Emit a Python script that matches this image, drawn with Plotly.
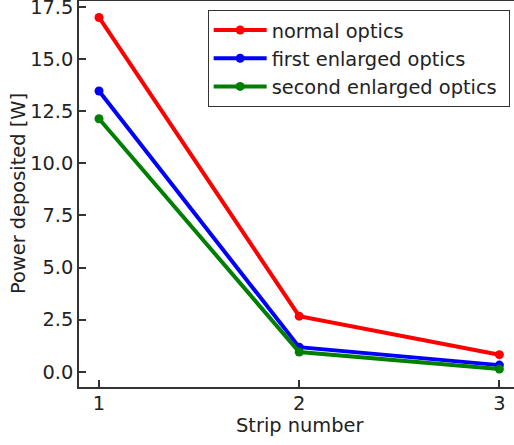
import plotly.graph_objects as go

strips = [1, 2, 3]
normal_optics = [17.0, 2.67, 0.82]
first_enlarged = [13.47, 1.18, 0.32]
second_enlarged = [12.14, 0.95, 0.13]
series_names = ["normal optics", "first enlarged optics", "second enlarged optics"]
colors = ["#ff0000", "#0000ff", "#008000"]
x_title = "Strip number"
y_title = "Power deposited [W]"

fig = go.Figure()
for name, vals, c in zip(series_names, [normal_optics, first_enlarged, second_enlarged], colors):
    fig.add_trace(go.Scatter(x=strips, y=vals, mode="lines+markers", name=name + "\u00a0",
                             line=dict(color=c, width=4), marker=dict(color=c, size=9)))

font = "DejaVu Sans"
fs = 19.4
axis_common = dict(showline=True, linecolor="#333333", linewidth=1.5, mirror=True,
                   ticks="inside", ticklen=7, tickwidth=1.5, tickcolor="#333333",
                   showgrid=False, zeroline=False, automargin=False,
                   ticklabeloverflow="allow",
                   tickfont=dict(family=font, size=fs, color="#222222"))
fig.update_layout(
    width=514, height=445,
    margin=dict(l=79, r=0, t=1, b=58),
    paper_bgcolor="white", plot_bgcolor="white",
    font=dict(family=font, size=fs, color="#222222"),
    xaxis=dict(range=[0.9, 3.073], tickvals=[1, 2, 3], ticktext=["1", "2", "3"],
               ticklabelstandoff=-2,
               **axis_common),
    yaxis=dict(range=[-0.73, 17.79], tickvals=[0, 2.5, 5, 7.5, 10, 12.5, 15, 17.5],
               ticktext=["0.0", "2.5", "5.0", "7.5", "10.0", "12.5", "15.0", "17.5"],
               **axis_common),
    legend=dict(x=0.99, y=0.977, xanchor="right", yanchor="top",
                bordercolor="#333333", borderwidth=1, bgcolor="white",
                itemwidth=53,
                font=dict(family=font, size=fs), tracegroupgap=0),
    annotations=[
        dict(text=x_title, xref="paper", yref="paper", x=0.5, y=0, xshift=2.5, yshift=-38,
             xanchor="center", yanchor="middle", showarrow=False,
             font=dict(family=font, size=fs, color="#222222")),
        dict(text=y_title, xref="paper", yref="paper", x=0, y=0.5, xshift=-61, yshift=0,
             xanchor="center", yanchor="middle", textangle=-90, showarrow=False,
             font=dict(family=font, size=fs, color="#222222")),
    ],
)
fig.write_html("out.html", config={"displayModeBar": False},
               post_script="document.body.style.margin='0';document.body.style.overflow='hidden';")
